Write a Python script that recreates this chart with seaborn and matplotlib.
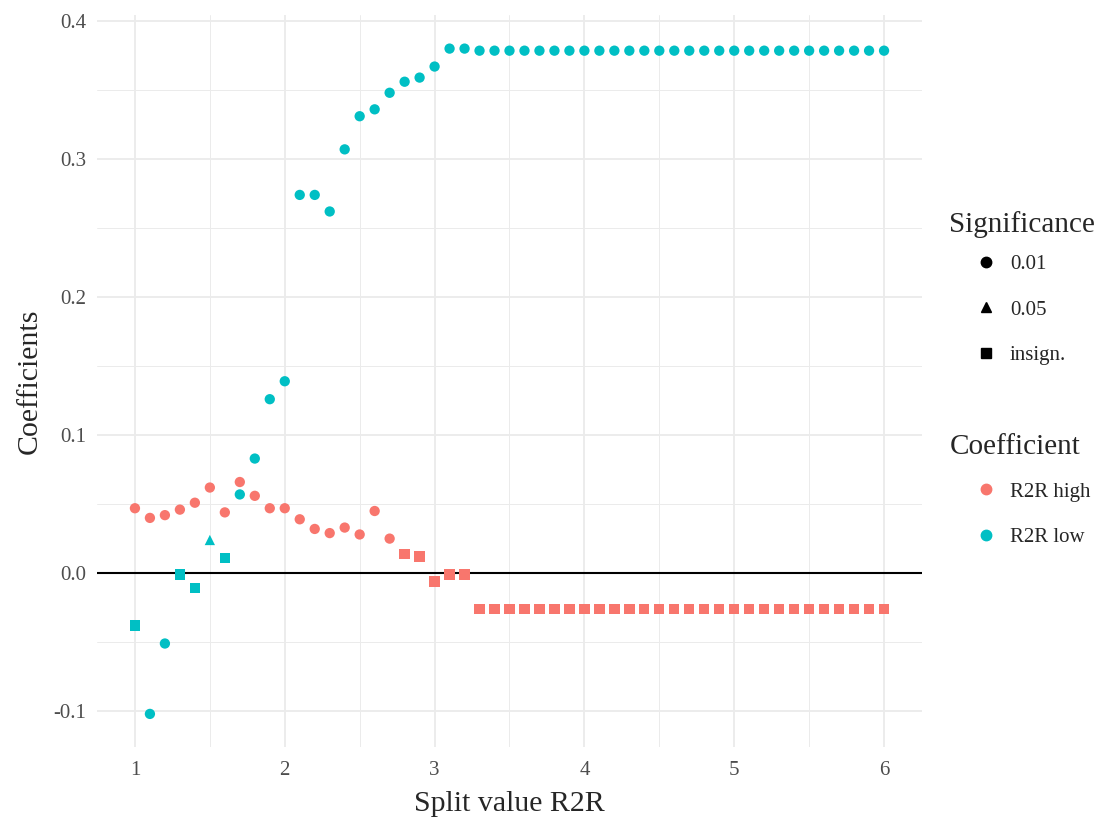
import numpy as np
import pandas as pd
import matplotlib
matplotlib.use("Agg")
import matplotlib.pyplot as plt
from matplotlib.lines import Line2D
import seaborn as sns

# split values (x axis)
split = [1.0, 1.1, 1.2, 1.3, 1.4, 1.5, 1.6, 1.7, 1.8, 1.9,
         2.0, 2.1, 2.2, 2.3, 2.4, 2.5, 2.6, 2.7, 2.8, 2.9,
         3.0, 3.1, 3.2, 3.3, 3.4, 3.5, 3.6, 3.7, 3.8, 3.9,
         4.0, 4.1, 4.2, 4.3, 4.4, 4.5, 4.6, 4.7, 4.8, 4.9,
         5.0, 5.1, 5.2, 5.3, 5.4, 5.5, 5.6, 5.7, 5.8, 5.9, 6.0]

high_coef = [0.047, 0.040, 0.042, 0.046, 0.051, 0.062, 0.044, 0.066, 0.056, 0.047,
             0.047, 0.039, 0.032, 0.029, 0.033, 0.028, 0.045, 0.025, 0.014, 0.012,
             -0.006, -0.001, -0.001, -0.026, -0.026, -0.026, -0.026, -0.026, -0.026, -0.026,
             -0.026, -0.026, -0.026, -0.026, -0.026, -0.026, -0.026, -0.026, -0.026, -0.026,
             -0.026, -0.026, -0.026, -0.026, -0.026, -0.026, -0.026, -0.026, -0.026, -0.026, -0.026]
high_sig = ["0.01"] * 18 + ["insign."] * 33

low_coef = [-0.038, -0.102, -0.051, -0.001, -0.011, 0.024, 0.011, 0.057, 0.083, 0.126,
            0.139, 0.274, 0.274, 0.262, 0.307, 0.331, 0.336, 0.348, 0.356, 0.359,
            0.367, 0.380, 0.380, 0.3785, 0.3785, 0.3785, 0.3785, 0.3785, 0.3785, 0.3785,
            0.3785, 0.3785, 0.3785, 0.3785, 0.3785, 0.3785, 0.3785, 0.3785, 0.3785, 0.3785,
            0.3785, 0.3785, 0.3785, 0.3785, 0.3785, 0.3785, 0.3785, 0.3785, 0.3785, 0.3785, 0.3785]
low_sig = ["insign.", "0.01", "0.01", "insign.", "insign.", "0.05", "insign."] + ["0.01"] * 44

df = pd.concat([
    pd.DataFrame({"split": split, "coef": high_coef, "Significance": high_sig, "Coefficient": "R2R high"}),
    pd.DataFrame({"split": split, "coef": low_coef, "Significance": low_sig, "Coefficient": "R2R low"}),
])

colors = {"R2R high": "#F8766D", "R2R low": "#00BFC4"}
markers = {"0.01": "o", "0.05": "^", "insign.": "s"}

sns.set_style("white")
plt.rcParams["font.family"] = ["Liberation Serif", "DejaVu Serif"]

fig = plt.figure(figsize=(11.04, 8.23), dpi=100)
ax = fig.add_axes([0.0883, 0.0923, 0.7464, 0.8889])

ax.axhline(0, color="black", lw=1.5, zorder=1)
sns.scatterplot(data=df, x="split", y="coef", hue="Coefficient", style="Significance",
                palette=colors, markers=markers, s=55, linewidth=0, legend=False,
                ax=ax, zorder=3)

ax.set_xlim(0.75, 6.25)
ax.set_ylim(-0.126, 0.404)
ax.set_xticks([1, 2, 3, 4, 5, 6])
ax.set_xticks([1.5, 2.5, 3.5, 4.5, 5.5], minor=True)
ax.set_yticks([-0.1, 0.0, 0.1, 0.2, 0.3, 0.4])
ax.set_yticks([-0.05, 0.05, 0.15, 0.25, 0.35], minor=True)
ax.set_yticklabels(["-0.1", "0.0", "0.1", "0.2", "0.3", "0.4"])
ax.grid(which="major", color="#EBEBEB", lw=1.3, zorder=0)
ax.grid(which="minor", color="#EBEBEB", lw=0.7, zorder=0)
ax.set_axisbelow(True)
for sp in ax.spines.values():
    sp.set_visible(False)
ax.tick_params(which="both", length=0, labelsize=15, labelcolor="#4D4D4D")
ax.tick_params(axis="x", pad=10)
ax.tick_params(axis="y", pad=8)
ax.set_xlabel("Split value R2R", fontsize=21.5, labelpad=8)
ax.set_ylabel("Coefficients", fontsize=21.5, labelpad=8)

# two separate legends like ggplot
leg_kw = dict(loc="upper left", frameon=False, fontsize=15, title_fontsize=21,
              labelspacing=1.25, handlelength=3.5, handletextpad=-0.6, alignment="left")
sig_handles = [Line2D([], [], marker=markers[k], color="black", ls="", markersize=7.5)
               for k in ["0.01", "0.05", "insign."]]
leg1 = fig.legend(sig_handles, ["0.01", "0.05", "insign."], title="Significance",
                  bbox_to_anchor=(0.843, 0.7665), **leg_kw)
coef_handles = [Line2D([], [], marker="o", color=colors[k], ls="", markersize=7.5)
                for k in ["R2R high", "R2R low"]]
leg2 = fig.legend(coef_handles, ["R2R high", "R2R low"], title="Coefficient",
                  bbox_to_anchor=(0.843, 0.4957), **leg_kw)
leg1._legend_box.sep = 12
leg2._legend_box.sep = 16

fig.savefig("out.png", dpi=100)
